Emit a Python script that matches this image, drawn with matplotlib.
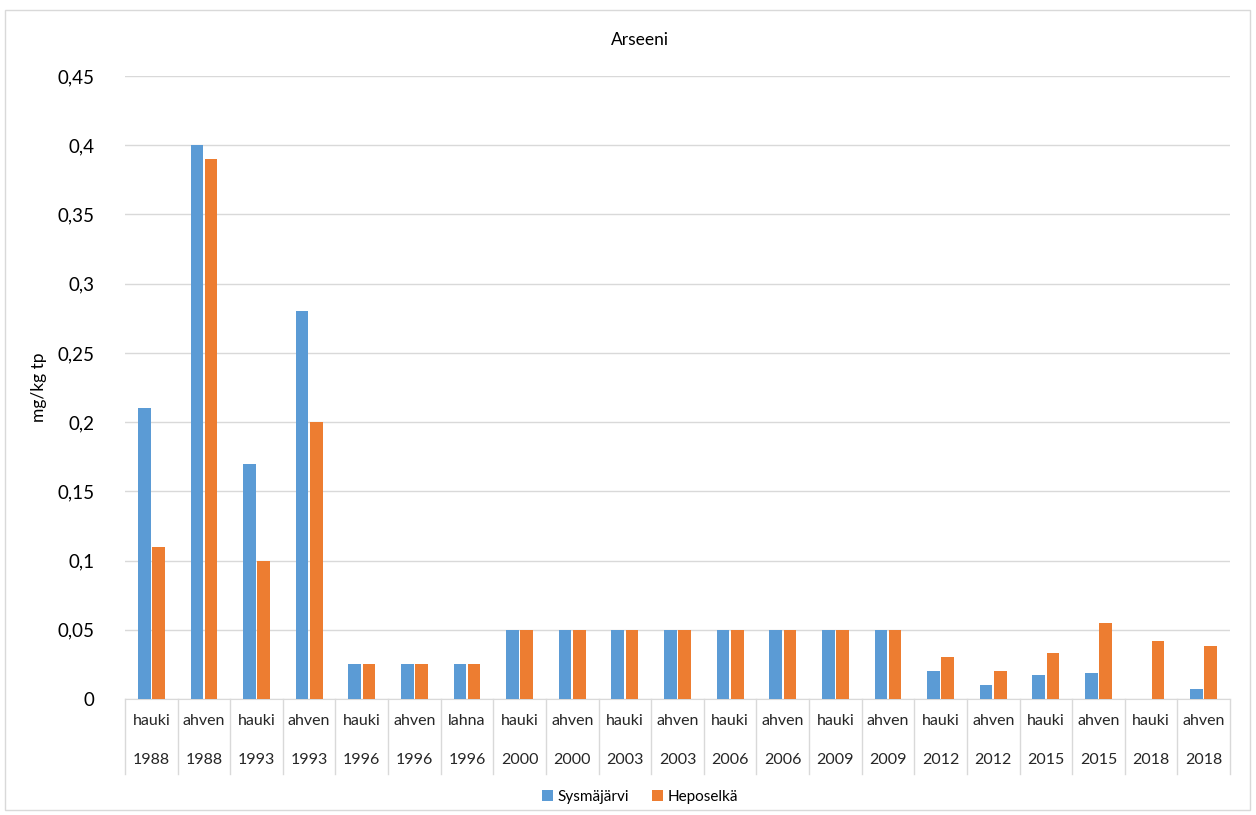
import matplotlib
matplotlib.use('Agg')
import matplotlib.pyplot as plt
import matplotlib.transforms as mtransforms
from matplotlib.patches import Rectangle
import numpy as np

plt.rcParams['font.family'] = ['Lato', 'DejaVu Sans']

# arseeni pitoisuudet, mg/kg tp
species = ["hauki", "ahven", "hauki", "ahven", "hauki", "ahven", "lahna",
           "hauki", "ahven", "hauki", "ahven", "hauki", "ahven", "hauki",
           "ahven", "hauki", "ahven", "hauki", "ahven", "hauki", "ahven"]
years = ["1988", "1988", "1993", "1993", "1996", "1996", "1996",
         "2000", "2000", "2003", "2003", "2006", "2006", "2009",
         "2009", "2012", "2012", "2015", "2015", "2018", "2018"]
sysmajarvi = [0.21, 0.40, 0.17, 0.28, 0.025, 0.025, 0.025,
              0.05, 0.05, 0.05, 0.05, 0.05, 0.05, 0.05,
              0.05, 0.02, 0.01, 0.017, 0.019, np.nan, 0.0075]
heposelka = [0.11, 0.39, 0.10, 0.20, 0.025, 0.025, 0.025,
             0.05, 0.05, 0.05, 0.05, 0.05, 0.05, 0.05,
             0.05, 0.03, 0.02, 0.033, 0.055, 0.042, 0.038]

blue = '#5B9BD5'
orange = '#ED7D31'
grid_c = '#D9D9D9'

W, H = 1256, 815
fig = plt.figure(figsize=(W / 100, H / 100), dpi=100)
ax = fig.add_axes([125 / W, (H - 699) / H, (1230 - 125) / W, (699 - 76) / H])

x = np.arange(len(species))
ax.bar(x - 0.135, sysmajarvi, width=0.24, color=blue, label='Sysmäjärvi', zorder=3)
ax.bar(x + 0.135, heposelka, width=0.24, color=orange, label='Heposelkä', zorder=3)

ax.set_xlim(-0.5, len(species) - 0.5)
ax.set_ylim(0, 0.45)
yt = np.arange(0, 0.451, 0.05)
ax.set_yticks(yt)
ax.set_yticklabels([('%g' % round(v, 2)).replace('.', ',') for v in yt], fontsize=13.5)
ax.tick_params(axis='y', length=0, pad=22)
ax.yaxis.grid(True, color=grid_c, linewidth=1, zorder=0)
for s in ['top', 'right', 'left']:
    ax.spines[s].set_visible(False)
ax.spines['bottom'].set_color(grid_c)

# two-level category axis
ax.set_xticks(x)
ax.set_xticklabels([])
ax.tick_params(axis='x', length=0)
trans = mtransforms.blended_transform_factory(ax.transData, fig.transFigure)
for i in x:
    ax.text(i, (H - 721) / H, species[i], ha='center', va='center',
            fontsize=11.5, color='#262626', transform=trans)
    ax.text(i, (H - 760) / H, years[i], ha='center', va='center',
            fontsize=11.5, color='#262626', transform=trans)
for b in np.arange(-0.5, len(species), 1.0):
    ax.plot([b, b], [(H - 699) / H, (H - 774) / H], color=grid_c, lw=1,
            transform=trans, clip_on=False)

ax.set_ylabel('mg/kg tp', fontsize=12.5)
ax.yaxis.set_label_coords(-78 / (1230 - 125), 0.5)
fig.text(640 / W, (H - 40) / H, 'Arseeni', ha='center', va='center', fontsize=12.5)

fig.legend(loc='center', bbox_to_anchor=(640 / W, (H - 797) / H), ncol=2,
           frameon=False, fontsize=11, handlelength=0.7, handleheight=0.7,
           handletextpad=0.3, columnspacing=1.5)

fig.patches.append(Rectangle((5 / W, 5 / H), (1250 - 5) / W, (805 - 5) / H,
                             transform=fig.transFigure, fill=False,
                             edgecolor=grid_c, lw=1))

fig.savefig('out.png', dpi=100)
